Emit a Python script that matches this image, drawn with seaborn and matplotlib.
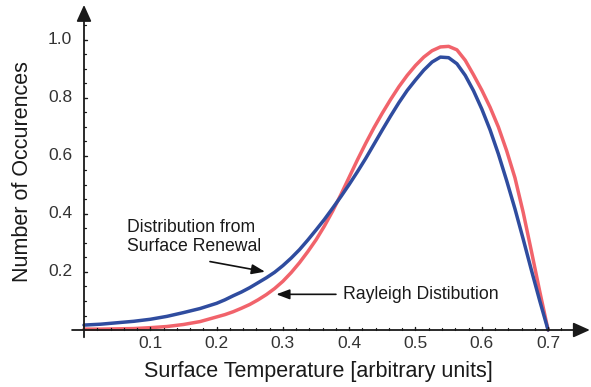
import matplotlib
matplotlib.use("Agg")
import matplotlib.pyplot as plt
import seaborn as sns
import pandas as pd

# Surface temperature samples (arbitrary units)
temperature = [0.000, 0.025, 0.050, 0.075, 0.100, 0.125, 0.150, 0.175,
               0.2000, 0.2125, 0.2250, 0.2375, 0.2500, 0.2625, 0.2750, 0.2875,
               0.3000, 0.3125, 0.3250, 0.3375, 0.3500, 0.3625, 0.3750, 0.3875,
               0.4000, 0.4125, 0.4250, 0.4375, 0.4500, 0.4625, 0.4750, 0.4875,
               0.5000, 0.5125, 0.5250, 0.5375, 0.5500, 0.5625, 0.5750, 0.5875,
               0.6000, 0.6125, 0.6250, 0.6375, 0.6500, 0.6625, 0.6750, 0.6875,
               0.7000]

# Distribution predicted by the surface renewal model
renewal = [0.017, 0.020, 0.025, 0.030, 0.037, 0.047, 0.060, 0.074,
           0.092, 0.104, 0.118, 0.131, 0.146, 0.163, 0.180, 0.199,
           0.222, 0.248, 0.277, 0.310, 0.345, 0.381, 0.420, 0.460,
           0.502, 0.546, 0.592, 0.641, 0.690, 0.738, 0.784, 0.826,
           0.862, 0.896, 0.924, 0.941, 0.939, 0.918, 0.878, 0.825,
           0.762, 0.690, 0.607, 0.515, 0.418, 0.313, 0.205, 0.100,
           0.000]

# Rayleigh distribution
rayleigh = [0.003, 0.003, 0.004, 0.005, 0.008, 0.012, 0.019, 0.029,
            0.045, 0.053, 0.063, 0.075, 0.088, 0.104, 0.122, 0.143,
            0.168, 0.198, 0.232, 0.270, 0.311, 0.358, 0.410, 0.467,
            0.527, 0.587, 0.644, 0.698, 0.748, 0.795, 0.839, 0.878,
            0.912, 0.941, 0.963, 0.976, 0.978, 0.966, 0.930, 0.880,
            0.827, 0.768, 0.700, 0.618, 0.525, 0.405, 0.270, 0.132,
            0.000]

x_ticks = [0.1, 0.2, 0.3, 0.4, 0.5, 0.6, 0.7]
y_ticks = [0.2, 0.4, 0.6, 0.8, 1.0]

sns.set_theme(style="white")
plt.rcParams["font.family"] = ["Liberation Sans", "DejaVu Sans"]

df = pd.DataFrame({"T": temperature * 2,
                   "N": renewal + rayleigh,
                   "curve": ["renewal"] * len(temperature) + ["rayleigh"] * len(temperature)})

fig = plt.figure(figsize=(5.91, 3.87), dpi=100)
ax = fig.add_axes([0.1197, 0.1248, 0.875, 0.8618])

BLUE = "#2F4C9F"
RED = "#F1636B"
sns.lineplot(data=df, x="T", y="N", hue="curve", hue_order=["rayleigh", "renewal"],
             palette={"renewal": BLUE, "rayleigh": RED}, linewidth=2.5,
             legend=False, ax=ax, sort=False, estimator=None)
for ln in ax.lines:
    ln.set_solid_joinstyle("round")
    ln.set_solid_capstyle("round")
# blue curve above the red one
ax.lines[1].set_zorder(4)
ax.lines[0].set_zorder(3)

ax.set_xlim(-0.02, 0.76)
ax.set_ylim(-0.03, 1.12)

for s in ax.spines.values():
    s.set_visible(False)
ax.grid(False)

AXC = "#1a1a1a"
# axes drawn as arrows crossing at the origin
arrow = dict(arrowstyle="-|>,head_length=1.0,head_width=0.45", color=AXC,
             lw=1.3, mutation_scale=10, shrinkA=0, shrinkB=0)
ax.annotate("", xy=(0.763, 0), xytext=(-0.018, 0), arrowprops=arrow,
            annotation_clip=False, zorder=5)
ax.annotate("", xy=(0, 1.121), xytext=(0, -0.025), arrowprops=arrow,
            annotation_clip=False, zorder=5)

TICKC = "#333333"
# ticks along the arrow axes
for t in x_ticks:
    ax.plot([t, t], [0, 0.011], color=AXC, lw=1.0, zorder=5)
    ax.text(t, -0.020, f"{t:.1f}", ha="center", va="top", fontsize=12.5, color=TICKC)
for i in range(1, 38):
    v = i * 0.02
    if abs(v * 10 - round(v * 10)) > 1e-6:
        ax.plot([v, v], [0, 0.007], color=AXC, lw=0.9, zorder=5)
for t in y_ticks:
    ax.plot([0, 0.0045], [t, t], color=AXC, lw=1.0, zorder=5)
    ax.text(-0.018, t, f"{t:.1f}", ha="right", va="center", fontsize=12.5, color=TICKC)
for i in range(1, 22):
    v = i * 0.05
    if abs(v * 5 - round(v * 5)) > 1e-6:
        ax.plot([0, 0.003], [v, v], color=AXC, lw=0.9, zorder=5)

ax.set_xticks([])
ax.set_yticks([])
ax.set_xlabel("")
ax.set_ylabel("")

fig.text(318 / 591, 1 - 372 / 387, "Surface Temperature [arbitrary units]",
         ha="center", va="center", fontsize=15.5, color="#1a1a1a")
fig.text(23 / 591, 1 - 172 / 387, "Number of Occurences", rotation=90,
         ha="center", va="center", fontsize=15.5, color="#1a1a1a")

# callouts
ax.text(0.065, 0.321, "Distribution from\nSurface Renewal", ha="left", va="center",
        fontsize=12.7, color="#1a1a1a", linespacing=1.12)
ax.annotate("", xy=(0.273, 0.201), xytext=(0.190, 0.236),
            arrowprops=dict(arrowstyle="-|>,head_length=0.8,head_width=0.3",
                            color="#111111", lw=1.2, mutation_scale=10,
                            shrinkA=0, shrinkB=0))
ax.text(0.391, 0.121, "Rayleigh Distibution", ha="left", va="center",
        fontsize=12.7, color="#1a1a1a")
ax.annotate("", xy=(0.290, 0.123), xytext=(0.380, 0.123),
            arrowprops=dict(arrowstyle="-|>,head_length=0.8,head_width=0.3",
                            color="#111111", lw=1.2, mutation_scale=10,
                            shrinkA=0, shrinkB=0))

fig.savefig("out.png", dpi=100)
